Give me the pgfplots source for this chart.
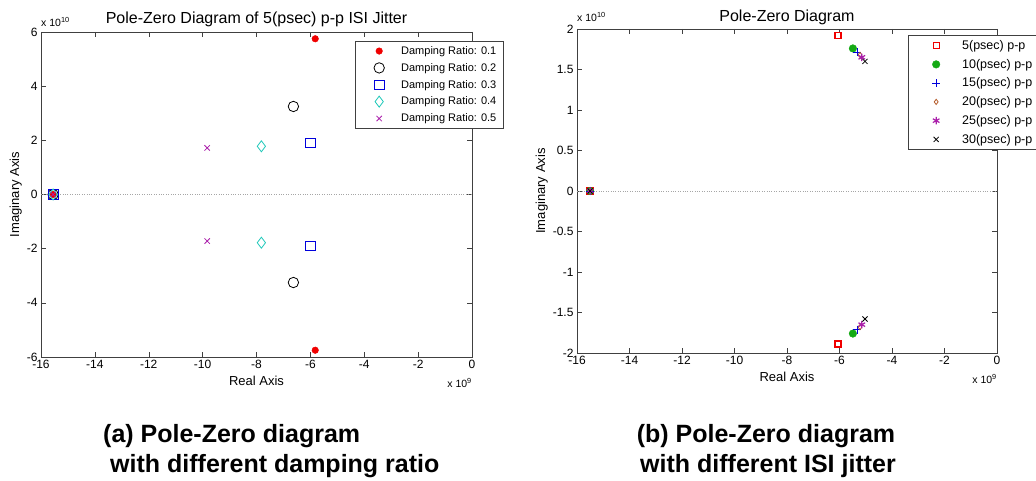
\documentclass[border=0pt]{standalone}
\usepackage{pgfplots}
\pgfplotsset{compat=1.18}
\usepackage{fontspec}
\setmainfont{Liberation Sans}
\definecolor{mred}{RGB}{240,0,0}
\definecolor{mblue}{RGB}{0,0,220}
\definecolor{mcyan}{RGB}{30,200,185}
\definecolor{mmag}{RGB}{170,30,170}
\definecolor{mgreen}{RGB}{20,170,20}
\definecolor{mbrown}{RGB}{180,90,40}
\pgfplotsset{
  pz/.style={
    scale only axis,
    clip=false,
    axis line style={black!75},
    every tick/.style={black!75},
    tick align=inside,
    major tick length=5pt,
    xmin=-16, xmax=0,
    xtick={-16,-14,...,0},
    tick label style={font=\fontsize{12}{14}\selectfont},
    /pgf/number format/assume math mode=true,
    xlabel={Real Axis},
    ylabel={Imaginary Axis},
    label style={font=\fontsize{13}{15}\selectfont},
    title style={font=\fontsize{16}{18}\selectfont},
    legend cell align=left,
    legend style={font=\fontsize{11}{13}\selectfont, draw=black!75,
      inner xsep=0pt, inner ysep=3pt},
    legend image code/.code={%
      \path[draw=none,fill=none] (-24pt,-3pt) rectangle (20pt,3pt);
      \draw plot coordinates {(0pt,0pt)};},
  },
}
\begin{document}
\begin{tikzpicture}
\useasboundingbox (0,0) rectangle (1036pt,481pt);

% ---- (a) damping ratio ----
\begin{axis}[pz,
  at={(41pt,124pt)}, anchor=south west,
  width=431pt, height=325pt,
  ymin=-6, ymax=6,
  ytick={-6,-4,...,6},
  title={Pole-Zero Diagram of 5(psec) p-p ISI Jitter},
  title style={yshift=-4pt},
  ylabel style={yshift=-2pt},
  legend style={at={(0.7285,0.972)}, anchor=north west, row sep=3.4pt},
]
\addplot[gray!70, dotted, forget plot] coordinates {(-16,0) (0,0)};
\addplot[only marks, mark=*, mark size=3.3pt, color=mred]
  coordinates {(-15.55,0) (-5.82,5.75) (-5.82,-5.75)};
\addlegendentry{\makebox[100pt][l]{Damping Ratio: 0.1}}
\addplot[only marks, mark=o, mark size=5.2pt, thick, color=black]
  coordinates {(-15.55,0) (-6.63,3.25) (-6.63,-3.25)};
\addlegendentry{Damping Ratio: 0.2}
\addplot[only marks, mark=square, mark size=4.8pt, thick, color=mblue]
  coordinates {(-15.55,0) (-6.0,1.90) (-6.0,-1.90)};
\addlegendentry{Damping Ratio: 0.3}
\addplot[only marks, mark=diamond, mark size=5.5pt, thick, color=mcyan]
  coordinates {(-15.55,0) (-7.82,1.78) (-7.82,-1.78)};
\addlegendentry{Damping Ratio: 0.4}
\addplot[only marks, mark=x, mark size=3.8pt, thick, color=mmag]
  coordinates {(-15.55,0) (-9.83,1.72) (-9.83,-1.72)};
\addlegendentry{Damping Ratio: 0.5}
\node[anchor=south west, inner sep=0pt, font=\fontsize{10.5}{12}\selectfont]
  at (rel axis cs:0,1) [yshift=5pt] {x 10\textsuperscript{10}};
\node[anchor=north east, inner sep=0pt, font=\fontsize{10.5}{12}\selectfont]
  at (rel axis cs:1,0) [yshift=-21pt] {x 10\textsuperscript{9}};
\end{axis}

% ---- (b) ISI jitter ----
\begin{axis}[pz,
  at={(577pt,128pt)}, anchor=south west,
  width=420pt, height=324pt,
  ymin=-2, ymax=2,
  ytick={-2,-1.5,...,2},
  title={Pole-Zero Diagram},
  title style={yshift=-5pt},
  ylabel style={yshift=-2pt},
  legend style={at={(0.788,0.981)}, anchor=north west, row sep=4.2pt,
    font=\fontsize{12.5}{14}\selectfont},
  legend image code/.code={%
    \path[draw=none,fill=none] (-28pt,-3pt) rectangle (24pt,3pt);
    \draw plot coordinates {(0pt,0pt)};},
]
\addplot[gray!70, dotted, forget plot] coordinates {(-16,0) (0,0)};
\addplot[only marks, mark=square*, mark size=3pt, line width=1.3pt,
  draw=mred, mark options={fill=white}]
  coordinates {(-15.5,0) (-6.06,1.92) (-6.06,-1.89)};
\addlegendentry{\makebox[110pt][l]{5(psec) p-p}}
\addplot[only marks, mark=*, mark size=3.8pt, color=mgreen]
  coordinates {(-15.5,0) (-5.49,1.76) (-5.49,-1.76)};
\addlegendentry{10(psec) p-p}
\addplot[only marks, mark=+, mark size=4pt, thick, color=mblue]
  coordinates {(-15.5,0) (-5.33,1.71) (-5.33,-1.71)};
\addlegendentry{15(psec) p-p}
\addplot[only marks, mark=diamond, mark size=2.6pt, thick, color=mbrown]
  coordinates {(-15.5,0) (-5.22,1.68) (-5.22,-1.68)};
\addlegendentry{20(psec) p-p}
\addplot[only marks, mark=asterisk, mark size=3.8pt, very thick, color=mmag]
  coordinates {(-15.5,0) (-5.15,1.65) (-5.15,-1.65)};
\addlegendentry{25(psec) p-p}
\addplot[only marks, mark=x, mark size=3.6pt, thick, color=black]
  coordinates {(-15.5,0) (-5.03,1.60) (-5.03,-1.58)};
\addlegendentry{30(psec) p-p}
\node[anchor=south west, inner sep=0pt, font=\fontsize{10.5}{12}\selectfont]
  at (rel axis cs:0,1) [yshift=7pt] {x 10\textsuperscript{10}};
\node[anchor=north east, inner sep=0pt, font=\fontsize{10.5}{12}\selectfont]
  at (rel axis cs:1,0) [yshift=-21pt] {x 10\textsuperscript{9}};
\end{axis}

% ---- captions ----
\node[anchor=base west, inner sep=0pt, font=\bfseries\fontsize{25}{30}\selectfont]
  at (103pt,38pt) {(a) Pole-Zero diagram};
\node[anchor=base west, inner sep=0pt, font=\bfseries\fontsize{25}{30}\selectfont]
  at (110pt,8pt) {with different damping ratio};
\node[anchor=base, inner sep=0pt, font=\bfseries\fontsize{25}{30}\selectfont]
  at (766pt,38pt) {(b) Pole-Zero diagram};
\node[anchor=base, inner sep=0pt, font=\bfseries\fontsize{25}{30}\selectfont]
  at (768pt,8pt) {with different ISI jitter};
\end{tikzpicture}
\end{document}
